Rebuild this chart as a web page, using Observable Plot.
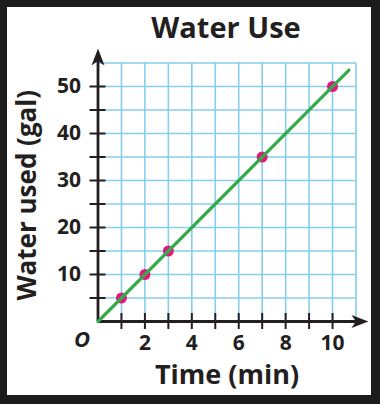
<!DOCTYPE html>
<html><head><meta charset="utf-8">
<script src="https://cdn.jsdelivr.net/npm/d3@7"></script>
<script src="https://cdn.jsdelivr.net/npm/@observablehq/plot@0.6"></script>
<style>
html,body{margin:0;padding:0;background:#1c1c1c;}
#frame{position:absolute;left:7px;top:7px;width:364px;height:388px;background:#fff;overflow:hidden;}
#title{position:absolute;left:0;top:0;width:364px;padding-left:74px;box-sizing:border-box;text-align:center;font-family:"Open Sans";font-weight:bold;font-size:29px;line-height:normal;color:#231f20;}
#chart{position:absolute;left:0;top:33px;}
</style></head><body>
<div id="frame"><div id="title"></div><div id="chart"></div></div>
<script>
const title = "Water Use";
const xTitle = "Time (min)";
const yTitle = "Water used (gal)";
const originLabel = "O";
const times = [1, 2, 3, 7, 10];
const gallons = [5, 10, 15, 35, 50];
const fitTime = [0, 10.7];
const fitGallons = [0, 53.5];
const xTicks = [1, 2, 3, 4, 5, 6, 7, 8, 9, 10];
const yTicks = [5, 10, 15, 20, 25, 30, 35, 40, 45, 50];
const xLabels = [2, 4, 6, 8, 10];
const yLabels = [10, 20, 30, 40, 50];
const gridX = [1, 2, 3, 4, 5, 6, 7, 8, 9, 10, 11];
const gridY = [5, 10, 15, 20, 25, 30, 35, 40, 45, 50, 55];
const xMax = 11, yMax = 55;
const xArrowTip = 11.53, yArrowTip = 58.1;

document.getElementById("title").textContent = title;

const ink = "#231f20";
const font = "Open Sans";
const points = times.map((t, i) => ({t, g: gallons[i]}));
const fit = fitTime.map((t, i) => ({t, g: fitGallons[i]}));

const dart = {
  draw(ctx) {
    ctx.moveTo(0, 0);
    ctx.lineTo(6.5, 17);
    ctx.lineTo(0, 12.5);
    ctx.lineTo(-6.5, 17);
    ctx.closePath();
  }
};

const chart = Plot.plot({
  width: 364,
  height: 355,
  marginLeft: 90.5,
  marginRight: 15.5,
  marginTop: 22.5,
  marginBottom: 74,
  x: {domain: [0, xMax], axis: null, label: null},
  y: {domain: [0, yMax], axis: null, label: null},
  style: {fontFamily: font, background: "white", overflow: "visible"},
  marks: [
    Plot.ruleX(gridX, {x: d => d, y1: 0, y2: yMax, stroke: "#86cdee", strokeWidth: 1.6}),
    Plot.ruleY(gridY, {y: d => d, x1: 0, x2: xMax, stroke: "#86cdee", strokeWidth: 1.6}),
    Plot.axisX({ticks: xTicks, tickSize: 16, dy: -8, tickFormat: () => "", label: null, stroke: ink, strokeWidth: 2}),
    Plot.axisY({ticks: yTicks, tickSize: 16, dx: 8, tickFormat: () => "", label: null, stroke: ink, strokeWidth: 2}),
    Plot.ruleX([0], {x: d => d, y1: 0, y2: yArrowTip - 2, stroke: ink, strokeWidth: 2.8}),
    Plot.ruleY([0], {y: d => d, x1: 0, x2: xArrowTip - 0.4, stroke: ink, strokeWidth: 2.8}),
    Plot.dot([0], {x: 0, y: yArrowTip, symbol: dart, fill: ink, stroke: "none", r: 5}),
    Plot.dot([0], {x: xArrowTip, y: 0, symbol: dart, fill: ink, stroke: "none", r: 5, rotate: 90}),
    Plot.text(yLabels, {x: 0, y: d => d, text: d => String(d), dx: -17, textAnchor: "end", fontSize: 21, fontWeight: "bold", fill: ink}),
    Plot.text(xLabels, {x: d => d, y: 0, text: d => String(d), dy: 22, fontSize: 21, fontWeight: "bold", fill: ink}),
    Plot.text([originLabel], {x: 0, y: 0, text: d => d, dx: -16, dy: 18, fontSize: 22, fontWeight: "bold", fontStyle: "italic", fill: ink}),
    Plot.text([xTitle], {x: xMax / 2, y: 0, text: d => d, dy: 54, fontSize: 27, fontWeight: "bold", fill: ink}),
    Plot.text([yTitle], {frameAnchor: "left", text: d => d, dx: -70, dy: 3, rotate: -90, textAnchor: "middle", fontSize: 26, fontWeight: "bold", fill: ink}),
    Plot.dot(points, {x: "t", y: "g", r: 5.5, fill: "#e2197c", stroke: "none"}),
    Plot.line(fit, {x: "t", y: "g", stroke: "#34aa4c", strokeWidth: 3.2})
  ]
});
document.getElementById("chart").appendChild(chart);
</script>
</body></html>
